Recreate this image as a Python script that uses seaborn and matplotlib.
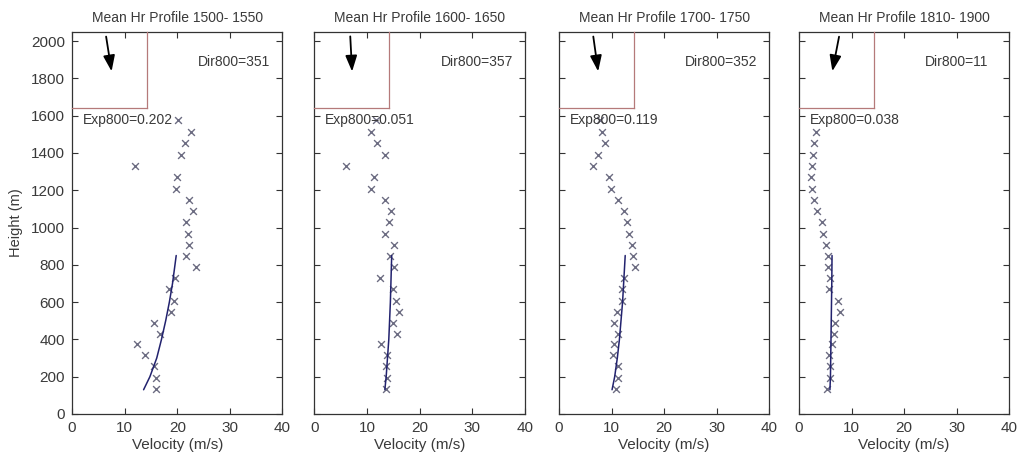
import numpy as np
import pandas as pd
import matplotlib
matplotlib.use("Agg")
import matplotlib.pyplot as plt
import seaborn as sns

# ---------------- data ----------------
titles = ["Mean Hr Profile 1500- 1550", "Mean Hr Profile 1600- 1650",
          "Mean Hr Profile 1700- 1750", "Mean Hr Profile 1810- 1900"]
dir800 = [351, 357, 352, 11]
exp800 = ["0.202", "0.051", "0.119", "0.038"]

heights = [135, 193, 255, 315, 373, 428, 488, 547, 606, 668, 728, 788, 847,
           907, 967, 1028, 1088, 1149, 1209, 1271, 1330, 1390, 1455, 1515, 1578]

vel_1500 = [15.9, 16.0, 15.6, 13.9, 12.4, 16.7, 15.6, 18.8, 19.3, 18.4, 19.5, 23.5, 21.7,
            22.3, 22.0, 21.6, 22.9, 22.3, 19.7, 20.0, 11.9, 20.7, 21.4, 22.7, 20.2]
vel_1600 = [13.7, 13.8, 13.7, 13.8, 12.7, 15.7, 14.9, 16.0, 15.5, 15.0, 12.5, 15.2, 14.3,
            15.2, 13.5, 14.1, 14.6, 13.5, 10.8, 11.3, 6.0, 13.5, 12.0, 10.7, 11.7]
vel_1700 = [10.8, 11.3, 11.3, 10.3, 10.5, 11.2, 10.5, 11.0, 11.9, 11.9, 12.4, 14.4, 14.1,
            13.8, 13.4, 12.9, 12.4, 11.2, 9.9, 9.5, 6.5, 7.5, 8.8, 8.2, 7.9]
vel_1810 = [5.4, 5.9, 5.9, 5.7, 6.2, 6.6, 6.8, 7.9, 7.5, 5.8, 5.9, 5.6, 5.6,
            5.2, 4.5, 4.3, 3.5, 2.8, 2.4, 2.3, 2.5, 2.7, 2.9, 3.3, np.nan]
velocities = [vel_1500, vel_1600, vel_1700, vel_1810]

# fitted power-law profile lines
fit_heights = [130, 200, 300, 400, 500, 600, 700, 850]
fit_1500 = [13.6, 14.8, 16.1, 17.0, 17.8, 18.5, 19.1, 19.8]
fit_1600 = [13.4, 13.65, 13.9, 14.15, 14.3, 14.45, 14.55, 14.7]
fit_1700 = [10.1, 10.6, 11.1, 11.5, 11.8, 12.1, 12.3, 12.6]
fit_1810 = [5.9, 6.0, 6.05, 6.1, 6.15, 6.2, 6.25, 6.3]
fits = [fit_1500, fit_1600, fit_1700, fit_1810]

x_ticks = [0, 10, 20, 30, 40]
y_ticks = list(range(0, 2001, 200))

# ---------------- style ----------------
sns.set_theme(style="white")
plt.rcParams["font.family"] = ["Liberation Sans", "DejaVu Sans"]
txt = "#3a3a3a"

fig = plt.figure(figsize=(10.19, 4.61), dpi=100)
lefts = [0.0707, 0.3085, 0.5485, 0.7840]
W, B, H = 0.2065, 0.102, 0.829

mark_col = "#6c6c82"
line_col = "#22226e"
box_col = "#b57a7a"

for i in range(4):
    ax = fig.add_axes([lefts[i], B, W, H])
    df = pd.DataFrame({"Velocity": velocities[i], "Height": heights})
    sns.scatterplot(data=df, x="Velocity", y="Height", marker="x", s=24,
                    color=mark_col, linewidth=1.0, ax=ax, zorder=3)
    dfl = pd.DataFrame({"Velocity": fits[i], "Height": fit_heights})
    sns.lineplot(data=dfl, x="Velocity", y="Height", sort=False, estimator=None,
                 color=line_col, linewidth=1.1, ax=ax, zorder=4)

    ax.set_xlim(0, 40)
    ax.set_ylim(0, 2050)
    ax.set_xticks(x_ticks)
    ax.set_yticks(y_ticks)
    ax.tick_params(direction="in", length=4, width=0.8, top=True, right=True,
                   bottom=True, left=True, colors="#333333", labelcolor=txt,
                   labelsize=11, pad=5)
    if i > 0:
        ax.set_yticklabels([])
        ax.set_ylabel("")
    else:
        ax.set_ylabel("Height (m)", fontsize=10.5, color=txt, labelpad=6)
    ax.set_xlabel("Velocity (m/s)", fontsize=11, color=txt, labelpad=2)
    for sp in ax.spines.values():
        sp.set_color("#333333")
        sp.set_linewidth(0.9)
    ax.set_title(titles[i], fontsize=10, color=txt, pad=7)

    ax.text(24, 1890, f"Dir800={dir800[i]}", fontsize=10, color=txt,
            ha="left", va="center")
    ax.text(2, 1576, f"Exp800={exp800[i]}", fontsize=10, color=txt,
            ha="left", va="center", zorder=5)

    # direction inset box
    ins = ax.inset_axes([0, 0.8, 0.357, 0.2])
    ins.set_xticks([])
    ins.set_yticks([])
    ins.patch.set_alpha(0)
    ins.spines["left"].set_visible(False)
    ins.spines["top"].set_visible(False)
    for s in ("right", "bottom"):
        ins.spines[s].set_color(box_col)
        ins.spines[s].set_linewidth(0.9)
    theta = np.deg2rad(dir800[i] + 180)
    Lx, Ly = 35 / 75.0, 35 / 76.0
    dx, dy = np.sin(theta) * Lx, np.cos(theta) * Ly
    cx, cy = 0.49, 0.71
    ins.annotate("", xy=(cx + dx / 2, cy + dy / 2), xytext=(cx - dx / 2, cy - dy / 2),
                 xycoords="axes fraction", textcoords="axes fraction",
                 arrowprops=dict(arrowstyle="-|>,head_length=0.6,head_width=0.22",
                                 color="black", lw=1.3,
                                 mutation_scale=16, shrinkA=0, shrinkB=0))

fig.savefig("out.png", dpi=100, facecolor="white")
